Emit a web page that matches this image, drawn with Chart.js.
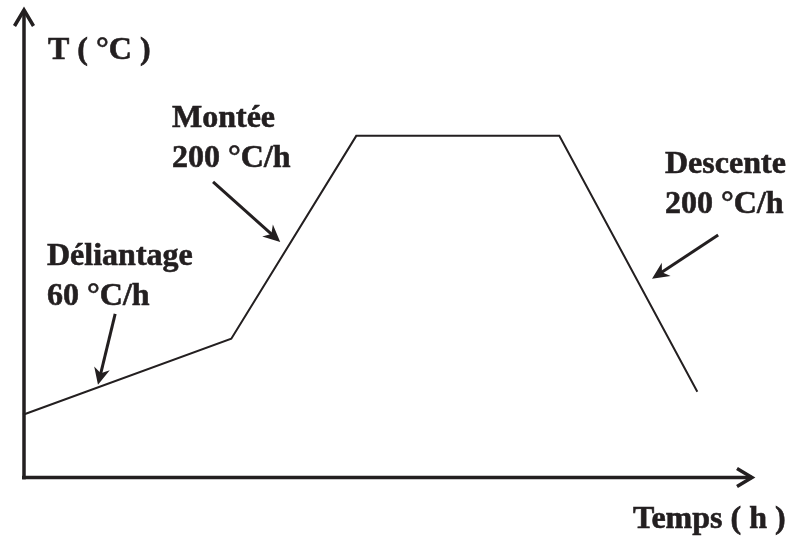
<!DOCTYPE html>
<html>
<head>
<meta charset="utf-8">
<script src="https://cdn.jsdelivr.net/npm/chart.js@4"></script>
<style>
  html, body { margin: 0; padding: 0; background: #fff; }
  #wrap { width: 791px; height: 538px; }
</style>
</head>
<body>
<div id="wrap"><canvas id="cycleChart" width="791" height="538"></canvas></div>
<script>
// ---------------- Data (schematic firing cycle) ----------------
const hours = [0, 4, 6.4, 10.3, 12.95];
const tempC = [135, 300, 740, 740, 185];

// phase labels and where their pointer arrows sit (in data units)
const phaseNames = ['Déliantage', 'Montée', 'Descente'];
const phaseRates = ['60 °C/h', '200 °C/h', '200 °C/h'];
const pointerFrom = [[1.77, 354], [3.65, 640], [13.35, 525]];
const pointerTo = [[1.44, 200], [4.94, 510], [12.08, 430]];

const INK = '#231f20';
const FONT = 'bold 32px "Liberation Serif", "Times New Roman", serif';

// label anchors (left, baseline) in pixels
const labelPos = [[47, 265], [172, 127], [665, 173]];

function arrowHead(ctx, x0, y0, x1, y1, len, half) {
    const a = Math.atan2(y1 - y0, x1 - x0);
    ctx.beginPath();
    ctx.moveTo(x1, y1);
    ctx.lineTo(x1 - len * Math.cos(a) + half * Math.sin(a), y1 - len * Math.sin(a) - half * Math.cos(a));
    ctx.lineTo(x1 - len * 0.7 * Math.cos(a), y1 - len * 0.7 * Math.sin(a));
    ctx.lineTo(x1 - len * Math.cos(a) - half * Math.sin(a), y1 - len * Math.sin(a) + half * Math.cos(a));
    ctx.closePath();
    ctx.fill();
}

const schemaPlugin = {
    id: 'schema',
    afterDraw(chart) {
        const ctx = chart.ctx;
        const xs = chart.scales.x, ys = chart.scales.y;
        const x0 = xs.getPixelForValue(0) + 1;
        const y0 = ys.getPixelForValue(0) + 0.5;
        ctx.save();
        ctx.strokeStyle = INK;
        ctx.fillStyle = INK;
        ctx.lineCap = 'butt';

        // axes
        ctx.lineWidth = 3.5;
        ctx.beginPath();
        ctx.moveTo(x0, y0 + 2);
        ctx.lineTo(x0, chart.chartArea.top - 5);
        ctx.moveTo(x0 - 2, y0);
        ctx.lineTo(chart.chartArea.right, y0);
        ctx.stroke();
        // open arrow heads
        ctx.lineJoin = 'miter';
        ctx.beginPath();
        const ty = chart.chartArea.top - 6;
        ctx.moveTo(x0 - 9.5, ty + 16);
        ctx.lineTo(x0, ty);
        ctx.lineTo(x0 + 9.5, ty + 16);
        const tx = chart.chartArea.right;
        ctx.moveTo(tx - 15, y0 - 9);
        ctx.lineTo(tx, y0);
        ctx.lineTo(tx - 15, y0 + 9);
        ctx.stroke();

        // pointer arrows
        ctx.lineWidth = 3;
        pointerFrom.forEach((f, i) => {
            const ax = xs.getPixelForValue(f[0]), ay = ys.getPixelForValue(f[1]);
            const bx = xs.getPixelForValue(pointerTo[i][0]), by = ys.getPixelForValue(pointerTo[i][1]);
            const a = Math.atan2(by - ay, bx - ax);
            ctx.beginPath();
            ctx.moveTo(ax, ay);
            ctx.lineTo(bx - 8 * Math.cos(a), by - 8 * Math.sin(a));
            ctx.stroke();
            arrowHead(ctx, ax, ay, bx, by, 17, 8);
        });

        // texts (thin stroke to get the heavier print look)
        ctx.font = FONT;
        ctx.textAlign = 'left';
        ctx.textBaseline = 'alphabetic';
        ctx.lineWidth = 0.6;
        const put = (t, x, y) => { ctx.fillText(t, x, y); ctx.strokeText(t, x, y); };
        put('T ( °C )', 48, 59);
        put('Temps ( h )', 633, 528);
        phaseNames.forEach((name, i) => {
            put(name, labelPos[i][0], labelPos[i][1]);
            put(phaseRates[i], labelPos[i][0], labelPos[i][1] + 40);
        });
        ctx.restore();
    }
};

const ctx = document.getElementById('cycleChart').getContext('2d');
new Chart(ctx, {
    type: 'line',
    data: {
        datasets: [{
            data: hours.map((h, i) => ({ x: h, y: tempC[i] })),
            borderColor: INK,
            borderWidth: 2,
            pointRadius: 0,
            tension: 0,
            fill: false,
            clip: false
        }]
    },
    options: {
        responsive: false,
        animation: false,
        layout: { padding: { left: 23, top: 16, right: 39, bottom: 61 } },
        plugins: { legend: { display: false }, tooltip: { enabled: false } },
        scales: {
            x: { type: 'linear', min: 0, max: 14, display: false },
            y: { type: 'linear', min: 0, max: 1000, display: false }
        }
    },
    plugins: [schemaPlugin]
});
</script>
</body>
</html>
